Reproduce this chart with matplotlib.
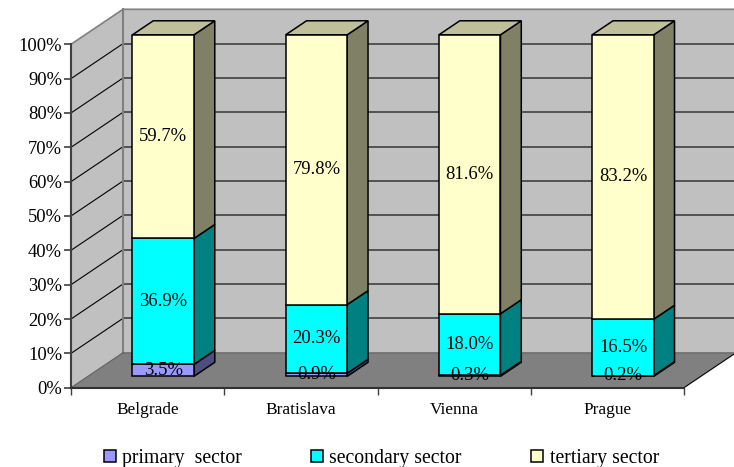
import matplotlib.pyplot as plt
from matplotlib.patches import Polygon

plt.rcParams["font.family"] = ["Liberation Serif", "DejaVu Serif"]

cities = ["Belgrade", "Bratislava", "Vienna", "Prague"]
primary = [3.5, 0.9, 0.3, 0.2]
secondary = [36.9, 20.3, 18.0, 16.5]
tertiary = [59.7, 79.8, 81.6, 83.2]
sector_names = ["primary  sector", "secondary sector", "tertiary sector"]
ytick_values = [0, 10, 20, 30, 40, 50, 60, 70, 80, 90, 100]

front_colors = ["#9999FF", "#00FFFF", "#FFFFCC"]
side_colors = ["#4D4D80", "#008080", "#808066"]
top_colors = ["#7373BF", "#00BFBF", "#BFBF99"]

W, H = 734, 467
fig = plt.figure(figsize=(W / 100, H / 100), dpi=100)
ax = fig.add_axes([71 / W, 1 - 387.7 / H, 613 / W, 343.4 / H])
ax.set_xlim(0, 4)
ax.set_ylim(0, 100)

# oblique depth, in data units
DX = 52 / 153.25
DY = 35 / 3.434
BAR_W = 61.5 / 153.25
BAR_F0 = 0.30
BAR_F1 = 0.70
BAR_BASE = 3.32
BAR_SCALE = 99.45


def depth(x, y, f):
    return (x + f * DX, y + f * DY)


def face(points, color, z, edge="none", lw=0):
    ax.add_patch(Polygon(points, closed=True, facecolor=color, edgecolor=edge,
                         linewidth=lw, zorder=z, clip_on=False, joinstyle="miter"))


# walls and floor
face([depth(0, 0, 0), depth(0, 100, 0), depth(0, 100, 1), depth(0, 0, 1)], "#C0C0C0", 1)
face([depth(0, 0, 1), depth(0, 100, 1), depth(4, 100, 1), depth(4, 0, 1)], "#C0C0C0", 1)
face([depth(0, 0, 0), depth(4, 0, 0), depth(4, 0, 1), depth(0, 0, 1)], "#808080", 1)

for v in ytick_values[1:-1]:
    a, b, c = depth(0, v, 0), depth(0, v, 1), depth(4, v, 1)
    ax.plot([a[0], b[0]], [a[1], b[1]], color="black", lw=0.8, zorder=2, clip_on=False)
    ax.plot([b[0], c[0]], [b[1], c[1]], color="#404040", lw=1.2, zorder=2, clip_on=False)

a, b, c = depth(0, 100, 0), depth(0, 100, 1), depth(4, 100, 1)
ax.plot([a[0], b[0], c[0]], [a[1], b[1], c[1]], color="#808080", lw=1.2, zorder=2, clip_on=False)
a, b = depth(0, 0, 1), depth(0, 100, 1)
ax.plot([a[0], b[0]], [a[1], b[1]], color="#808080", lw=1.5, zorder=2, clip_on=False)
a, b = depth(0, 0, 1), depth(4, 0, 1)
ax.plot([a[0], b[0]], [a[1], b[1]], color="#707070", lw=1.2, zorder=2, clip_on=False)
a, b, c = depth(0, 0, 0), depth(0, 0, 1), depth(4, 0, 0)
ax.plot([a[0], b[0]], [a[1], b[1]], color="#606060", lw=0.8, zorder=2, clip_on=False)
d = depth(4, 0, 1)
ax.plot([c[0], d[0]], [c[1], d[1]], color="black", lw=0.8, zorder=2, clip_on=False)

# stacked bars, left to right
off_x = (BAR_F1 - BAR_F0) * DX
off_y = (BAR_F1 - BAR_F0) * DY
for i, city in enumerate(cities):
    values = [primary[i], secondary[i], tertiary[i]]
    total = sum(values)
    x0 = depth(i + 0.5 - BAR_W / 2, 0, BAR_F0)[0]
    x1 = x0 + BAR_W
    bottom = 0
    for k, v in enumerate(values):
        h = v / total * BAR_SCALE
        y0 = BAR_BASE + bottom
        y1 = y0 + h
        z = 3 + k
        face([(x1, y0), (x1 + off_x, y0 + off_y), (x1 + off_x, y1 + off_y), (x1, y1)],
             side_colors[k], z, "black", 1.1)
        if k == 2:
            face([(x0, y1), (x1, y1), (x1 + off_x, y1 + off_y), (x0 + off_x, y1 + off_y)],
                 top_colors[k], z, "black", 1.1)
        ax.bar(x0, h, width=BAR_W, bottom=y0, align="edge", color=front_colors[k],
               edgecolor="black", linewidth=1.1, zorder=z + 0.5, clip_on=False)
        bottom += h
    bottom = 0
    for v in values:
        h = v / total * BAR_SCALE
        ax.text((x0 + x1) / 2, BAR_BASE + bottom + h / 2, f"{v:.1f}%", ha="center", va="center",
                fontsize=13.4, color="black", zorder=10, clip_on=False)
        bottom += h

# axes
ax.patch.set_visible(False)
for s in ["top", "right"]:
    ax.spines[s].set_visible(False)
ax.spines["left"].set(color="#404040", linewidth=1.5, zorder=9)
ax.spines["bottom"].set(color="#303030", linewidth=1.5, zorder=9)
ax.set_yticks(ytick_values)
ax.set_yticklabels([f"{v}%" for v in ytick_values], fontsize=13.3)
ax.tick_params(axis="y", length=5, width=1.2, color="#404040", pad=1.5)
ax.set_xticks([0, 1, 2, 3, 4])
ax.set_xticklabels([])
ax.set_xticks([0.5, 1.5, 2.5, 3.5], cities, minor=True, fontsize=12.4)
ax.tick_params(axis="x", which="major", length=5, width=1.0, color="#404040")
ax.tick_params(axis="x", which="minor", length=0, pad=10)

handles = [plt.Rectangle((0, 0), 1, 1, facecolor=c, edgecolor="black", linewidth=1.1)
           for c in front_colors]
fig.legend(handles, sector_names, loc="lower left", bbox_to_anchor=(103.5 / W, 1 - 468 / H),
           ncol=3, frameon=False, fontsize=14.2, handlelength=0.62, handleheight=0.62,
           handletextpad=0.32, columnspacing=3.5, borderpad=0, borderaxespad=0)

fig.savefig("out.png", dpi=100)
